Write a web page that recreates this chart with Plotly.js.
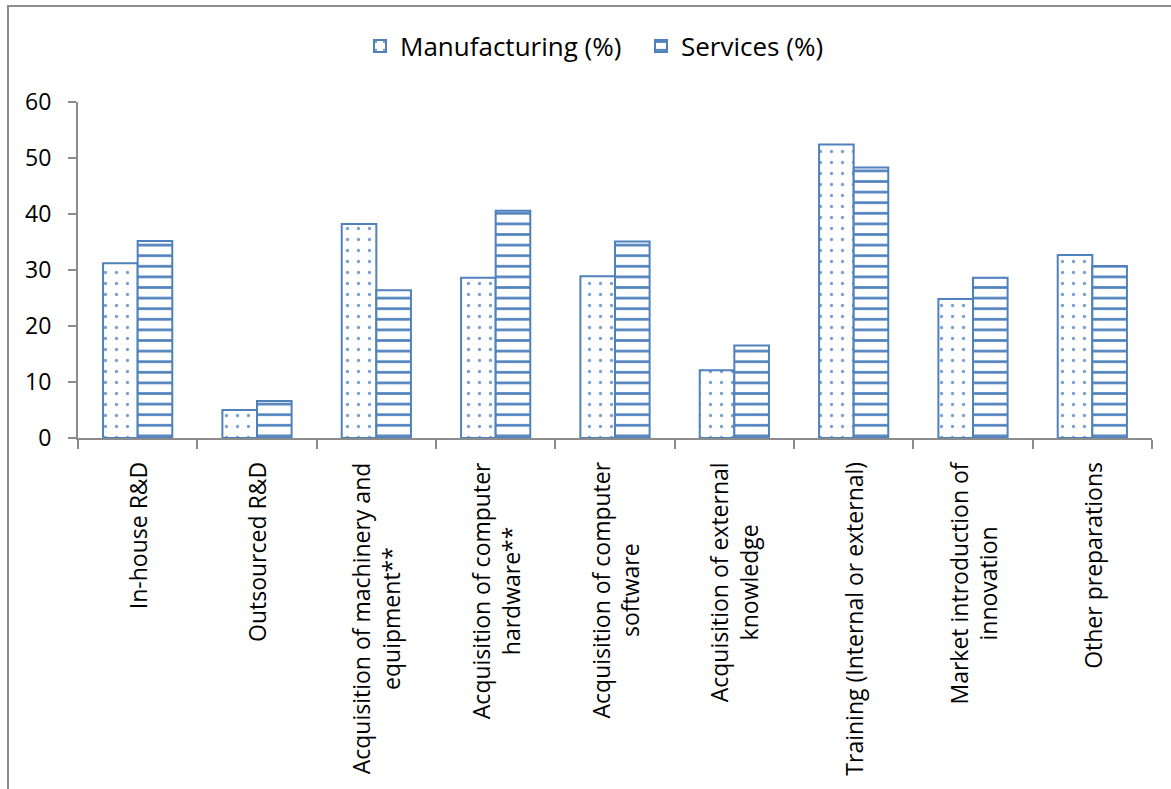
<!DOCTYPE html>
<html>
<head>
<meta charset="utf-8">
<script src="https://cdn.plot.ly/plotly-3.0.1.min.js"></script>
<style>
  html, body { margin: 0; padding: 0; background: #fff; }
  #frame { position: absolute; left: 7px; top: 5px; width: 1200px; height: 800px;
           border-left: 2px solid #8c8c8c; border-top: 2px solid #8c8c8c; }
  #chart { position: absolute; left: 0; top: 0; width: 1171px; height: 789px; }
</style>
</head>
<body>
<div id="frame"></div>
<div id="chart"></div>
<script>
const categories = [
  "In-house R&D",
  "Outsourced R&D",
  "Acquisition of machinery and<br>equipment**",
  "Acquisition of computer<br>hardware**",
  "Acquisition of computer<br>software",
  "Acquisition of external<br>knowledge",
  "Training (Internal or external)",
  "Market introduction of<br>innovation",
  "Other preparations"
];
const manufacturing = [31.2, 5.0, 38.2, 28.6, 28.9, 12.1, 52.4, 24.8, 32.7];
const services = [35.2, 6.6, 26.4, 40.6, 35.1, 16.5, 48.3, 28.6, 30.7];
const seriesNames = ["Manufacturing (%)", "Services (%)"];
const yTicks = [0, 10, 20, 30, 40, 50, 60];

const blue = "#4f81bd";
const font = "Open Sans, sans-serif";

const traces = [
  {
    type: "bar", name: seriesNames[0], x: categories, y: manufacturing,
    marker: { color: "#ffffff", line: { color: blue, width: 2 },
              pattern: { shape: ".", fgcolor: "#7a9fd3", bgcolor: "#ffffff", size: 11, solidity: 0.07, fillmode: "replace" } }
  },
  {
    type: "bar", name: seriesNames[1], x: categories, y: services,
    marker: { color: "#ffffff", line: { color: blue, width: 2 },
              pattern: { shape: "-", fgcolor: blue, bgcolor: "#ffffff", size: 10.6, solidity: 0.25, fillmode: "replace" } }
  }
];

const annotations = categories.map(c => ({
  x: c, xref: "x", y: 1, yref: "paper", yshift: -(438 - 102) - 22,
  text: c, textangle: -90, showarrow: false,
  xanchor: "center", yanchor: "top", align: "center",
  font: { family: font, size: 23, color: "#000" }
}));

const layout = {
  width: 1171, height: 789,
  paper_bgcolor: "rgba(0,0,0,0)", plot_bgcolor: "rgba(0,0,0,0)",
  margin: { l: 78, r: 19, t: 102, b: 351 },
  barmode: "group", bargap: 0.42, bargroupgap: 0,
  showlegend: true,
  legend: { orientation: "h", x: 360/1171, xanchor: "left", xref: "container",
            y: 1 - 46/789, yanchor: "middle", yref: "container",
            entrywidth: 236, entrywidthmode: "pixels",
            font: { family: font, size: 26, color: "#000" }, itemwidth: 30, tracegroupgap: 0 },
  xaxis: {
    type: "category", showticklabels: false, showline: true, linecolor: "#8c8c8c", linewidth: 2,
    ticks: "outside", tickson: "boundaries", ticklen: 9, tickcolor: "#8c8c8c", tickwidth: 2,
    showgrid: false, zeroline: false, fixedrange: true
  },
  yaxis: {
    range: [0, 60], tickvals: yTicks, showline: true, linecolor: "#8c8c8c", linewidth: 2,
    ticks: "outside", ticklen: 8, tickcolor: "#8c8c8c", tickwidth: 2, ticklabelstandoff: 12,
    showgrid: false, zeroline: false, tickfont: { family: font, size: 23, color: "#000" },
    fixedrange: true
  },
  annotations: annotations
};

Plotly.newPlot("chart", traces, layout, { displayModeBar: false, staticPlot: true });
</script>
</body>
</html>
